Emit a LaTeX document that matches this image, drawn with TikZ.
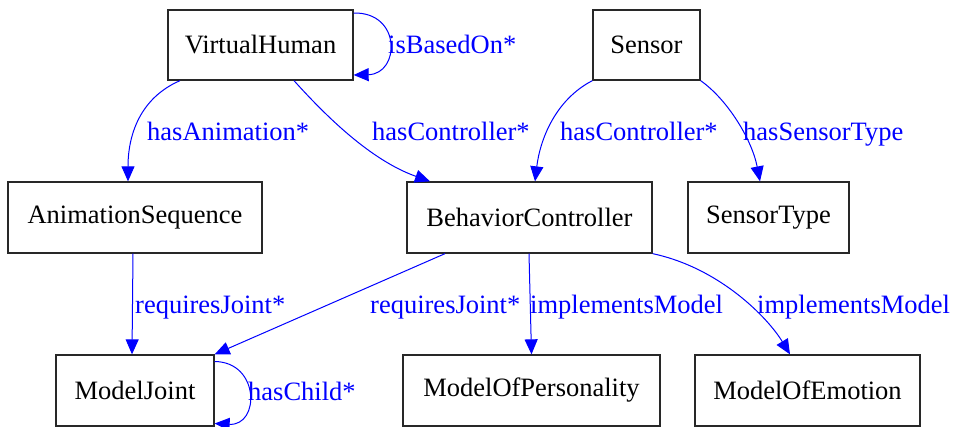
\documentclass[tikz,border=0pt]{standalone}
\usepackage{fontspec}
\setmainfont{Liberation Serif}
\usetikzlibrary{arrows.meta}
\definecolor{edgeblue}{RGB}{0,0,255}
\definecolor{boxline}{RGB}{40,40,40}
\begin{document}
\begin{tikzpicture}[x=1pt,y=-1pt,
  cls/.style={draw=boxline,line width=1.3pt,inner sep=0pt,font=\fontsize{26.5}{30}\selectfont,text=black},
  rel/.style={draw=edgeblue,line width=1pt,-{Triangle[length=15pt,width=13pt]},edgeblue},
  lbl/.style={anchor=base west,inner sep=0pt,text=edgeblue,font=\fontsize{26.5}{30}\selectfont}]
\useasboundingbox (0,0) rectangle (956,426);
% classes
\node[cls,minimum width=185pt,minimum height=70pt] (vh) at (260.5,45) {VirtualHuman};
\node[cls,minimum width=107pt,minimum height=70pt] (sen) at (646.5,45) {Sensor};
\node[cls,minimum width=254pt,minimum height=71pt] (as) at (135,217.5) {AnimationSequence};
\node[cls,minimum width=245pt,minimum height=71pt] (bc) at (529.5,217.5) {BehaviorController};
\node[cls,minimum width=161pt,minimum height=71pt] (st) at (768.5,217.5) {SensorType};
\node[cls,minimum width=158pt,minimum height=71pt] (mj) at (135,390.5) {ModelJoint};
\node[cls,minimum width=257pt,minimum height=71pt] (mop) at (531.5,390.5) {ModelOfPersonality};
\node[cls,minimum width=225pt,minimum height=71pt] (moe) at (807.5,390.5) {ModelOfEmotion};
% edges
\draw[rel] ([xshift=-80.5pt]vh.south) .. controls (140,98) and (128,135) .. ([xshift=-7pt]as.north);
\draw[rel] ([xshift=33.5pt]vh.south) .. controls (325,115) and (370,160) .. ([xshift=-99.5pt]bc.north);
\draw[rel] ([yshift=32pt]vh.east) .. controls (402,12) and (400,74) .. ([yshift=-30pt]vh.east);
\draw[rel] (sen.south west) .. controls (555,100) and (540,140) .. ([xshift=5.5pt]bc.north);
\draw[rel] (sen.south east) .. controls (728,100) and (752,140) .. ([xshift=-8.5pt]st.north);
\draw[rel] ([xshift=-2pt]as.south) -- ([xshift=-3pt]mj.north);
\draw[rel] ([xshift=-84.5pt]bc.south) -- (mj.north east);
\draw[rel] ([xshift=-0.5pt]bc.south) -- (mop.north);
\draw[rel] (bc.south east) .. controls (720,268) and (768,318) .. ([xshift=-17.5pt]moe.north);
\draw[rel] ([yshift=29pt]mj.east) .. controls (260,362) and (260,426) .. ([yshift=-33pt]mj.east);
% labels
\node[lbl] (l1) at (388,53) {isBasedOn*};
\node[lbl] (l2) at (147,140) {hasAnimation*};
\node[lbl] (l3) at (372,140) {hasController*};
\node[lbl] (l4) at (560,140) {hasController*};
\node[lbl] (l5) at (743,140) {hasSensorType};
\node[lbl] (l6) at (135,313) {requiresJoint*};
\node[lbl] (l7) at (370,313) {requiresJoint*};
\node[lbl] (l8) at (530,313) {implementsModel};
\node[lbl] (l9) at (757,313) {implementsModel};
\node[lbl] (l10) at (248,400) {hasChild*};
\end{tikzpicture}
\end{document}
